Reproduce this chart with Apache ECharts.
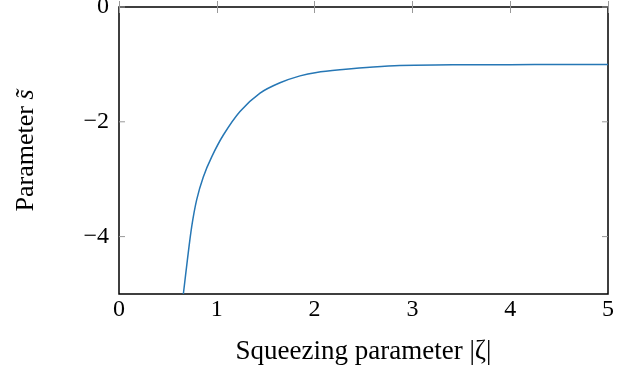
<!DOCTYPE html>
<html><head><meta charset="utf-8">
<script src="https://cdn.jsdelivr.net/npm/echarts@6/dist/echarts.min.js"></script>
<style>html,body{margin:0;padding:0;background:#fff}#c{width:641px;height:374px}</style>
</head><body><div id="c"></div>
<script>
const zeta = [0.658,0.699,0.743,0.794,0.862,0.948,1.067,1.237,1.442,1.646,1.851,2.02,2.29,2.60,2.87,3.50,4.00,4.50,5.00];
const sTilde = [-5.0,-4.41,-3.83,-3.36,-2.96,-2.61,-2.23,-1.82,-1.50,-1.32,-1.20,-1.14,-1.09,-1.045,-1.02,-1.007,-1.004,-1.003,-1.003];
const xTicks = [0,1,2,3,4,5];
const yTicks = [-4,-2,0];
const xName = 'Squeezing parameter |ζ|';
const yName = 'Parameter {i|s̃}';

const FONT = 'Liberation Serif';
const fmt = v => String(v).replace('-', '\u2212');
const tickStyle = {show:true, inside:true, length:6, lineStyle:{color:'#999', width:1}};
const X0 = xTicks[0], X1 = xTicks[xTicks.length-1];
const chart = echarts.init(document.getElementById('c'));
chart.setOption({
  animation:false,
  grid:{left:119, right:33, top:7, bottom:80, show:true, borderColor:'#000', borderWidth:1.5,
    containLabel:false, outerBoundsMode:'none'},
  xAxis:[{
    type:'value', min:X0, max:X1, interval:1,
    axisLine:{show:false}, splitLine:{show:false}, axisTick:tickStyle,
    axisLabel:{color:'#000', fontFamily:FONT, fontSize:24, margin:4, formatter:fmt},
    name:xName, nameLocation:'middle', nameGap:44,
    nameTextStyle:{color:'#000', fontFamily:FONT, fontSize:27}
  },{
    type:'value', position:'top', min:X0, max:X1, interval:1,
    axisLine:{show:false}, splitLine:{show:false}, axisTick:tickStyle, axisLabel:{show:false}
  }],
  yAxis:[{
    type:'value', min:-5, max:0, interval:1,
    axisLine:{show:false}, splitLine:{show:false}, axisTick:{show:false},
    axisLabel:{color:'#000', fontFamily:FONT, fontSize:24, margin:10, formatter:fmt,
      customValues: yTicks},
    name:yName, nameLocation:'middle', nameGap:80,
    nameTextStyle:{color:'#000', fontFamily:FONT, fontSize:26,
      rich:{i:{fontStyle:'italic', fontFamily:FONT, fontSize:26, color:'#000'}}}
  }],
  series:[{
    type:'line', xAxisIndex:0, yAxisIndex:0,
    data: zeta.map((x,i)=>[x, sTilde[i]]),
    smooth:0.3, showSymbol:false, clip:true,
    lineStyle:{color:'#2677b5', width:1.5}
  },{
    type:'custom', xAxisIndex:0, yAxisIndex:0, silent:true, z:1,
    data: yTicks.map(v=>[X0, v]),
    renderItem:(params, api)=>{
      const v = api.value(1);
      const L = api.coord([X0, v]), R = api.coord([X1, v]);
      const st = {stroke:'#999', lineWidth:1};
      return {type:'group', children:[
        {type:'line', shape:{x1:L[0], y1:L[1], x2:L[0]+6, y2:L[1]}, style:st},
        {type:'line', shape:{x1:R[0]-6, y1:R[1], x2:R[0], y2:R[1]}, style:st}
      ]};
    }
  }]
});
</script></body></html>
